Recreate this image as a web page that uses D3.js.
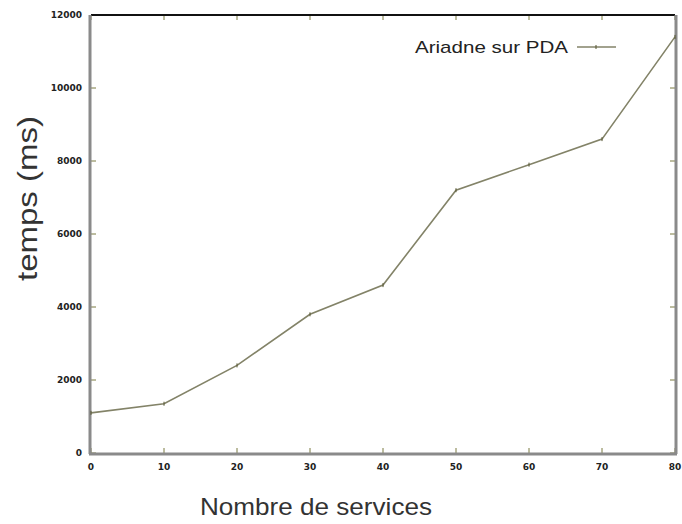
<!DOCTYPE html>
<html><head><meta charset="utf-8">
<script src="https://cdn.jsdelivr.net/npm/d3@7"></script>
<style>body{margin:0;background:#fff}</style>
</head><body>
<svg id="c" width="682" height="524"></svg>
<script>
const xValues = [0, 10, 20, 30, 40, 50, 60, 70, 80];
const yValues = [1100, 1350, 2400, 3800, 4600, 7200, 7900, 8600, 11400];
const xTicks = [0, 10, 20, 30, 40, 50, 60, 70, 80];
const yTicks = [0, 2000, 4000, 6000, 8000, 10000, 12000];
const seriesName = "Ariadne sur PDA";
const xTitle = "Nombre de services";
const yTitle = "temps (ms)";

const svg = d3.select("#c");
const L = 91, R = 675, T = 15, B = 453;
const x = d3.scaleLinear().domain([0, 80]).range([L, R]);
const y = d3.scaleLinear().domain([0, 12000]).range([B, T]);
const tickCol = "#7a7a40";

const g = svg.append("g");
g.selectAll(".xt").data(xTicks).enter().append("line")
  .attr("x1", d => x(d)).attr("x2", d => x(d)).attr("y1", B).attr("y2", B - 5)
  .attr("stroke", tickCol).attr("stroke-width", 1);
g.selectAll(".xt2").data(xTicks).enter().append("line")
  .attr("x1", d => x(d)).attr("x2", d => x(d)).attr("y1", T).attr("y2", T + 5)
  .attr("stroke", tickCol).attr("stroke-width", 1);
g.selectAll(".yt").data(yTicks).enter().append("line")
  .attr("x1", L).attr("x2", L + 5).attr("y1", d => y(d)).attr("y2", d => y(d))
  .attr("stroke", tickCol).attr("stroke-width", 1);
g.selectAll(".yt2").data(yTicks).enter().append("line")
  .attr("x1", R).attr("x2", R - 5).attr("y1", d => y(d)).attr("y2", d => y(d))
  .attr("stroke", tickCol).attr("stroke-width", 1);

svg.append("line").attr("x1", L).attr("x2", R).attr("y1", T).attr("y2", T).attr("stroke", "#111").attr("stroke-width", 2);
svg.append("line").attr("x1", L - 1).attr("x2", L - 1).attr("y1", T).attr("y2", B + 1).attr("stroke", "#8a8a8a").attr("stroke-width", 3);
svg.append("line").attr("x1", R + 1).attr("x2", R + 1).attr("y1", T).attr("y2", B + 1).attr("stroke", "#8a8a8a").attr("stroke-width", 3);
svg.append("line").attr("x1", L - 2).attr("x2", R + 2).attr("y1", B + 1).attr("y2", B + 1).attr("stroke", "#8a8a8a").attr("stroke-width", 3);

svg.selectAll(".xl").data(xTicks).enter().append("text")
  .attr("x", d => x(d)).attr("y", B + 17).attr("text-anchor", "middle")
  .attr("font-family", "DejaVu Sans").attr("font-size", 9).attr("font-weight", "bold").attr("fill", "#222")
  .text(d => d);
svg.selectAll(".yl").data(yTicks).enter().append("text")
  .attr("x", L - 9).attr("y", d => y(d) + 3).attr("text-anchor", "end")
  .attr("font-family", "DejaVu Sans").attr("font-size", 9).attr("font-weight", "bold").attr("fill", "#222")
  .text(d => d);

const line = d3.line().x((d, i) => x(xValues[i])).y(d => y(d));
svg.append("path").datum(yValues).attr("d", line)
  .attr("fill", "none").attr("stroke", "#838368").attr("stroke-width", 1.6);
svg.selectAll(".pt").data(yValues).enter().append("line")
  .attr("x1", (d, i) => x(xValues[i])).attr("x2", (d, i) => x(xValues[i]))
  .attr("y1", d => y(d) - 2).attr("y2", d => y(d) + 2)
  .attr("stroke", "#555530").attr("stroke-width", 1);

svg.append("text").attr("x", 568).attr("y", 53).attr("text-anchor", "end")
  .attr("font-family", "Liberation Sans, Arial").attr("font-size", 17).attr("fill", "#222")
  .attr("textLength", 153).attr("lengthAdjust", "spacingAndGlyphs")
  .text(seriesName);
svg.append("line").attr("x1", 577).attr("x2", 616).attr("y1", 47).attr("y2", 47)
  .attr("stroke", "#838368").attr("stroke-width", 1.6);
svg.append("line").attr("x1", 596).attr("x2", 596).attr("y1", 45).attr("y2", 49)
  .attr("stroke", "#555530").attr("stroke-width", 1);

svg.append("text").attr("x", 200).attr("y", 515)
  .attr("font-family", "Liberation Sans, Arial").attr("font-size", 24).attr("fill", "#333")
  .attr("textLength", 232).attr("lengthAdjust", "spacingAndGlyphs")
  .text(xTitle);
svg.append("text").attr("transform", "translate(37,281) rotate(-90)")
  .attr("font-family", "Liberation Sans, Arial").attr("font-size", 28).attr("fill", "#333")
  .attr("textLength", 165).attr("lengthAdjust", "spacingAndGlyphs")
  .text(yTitle);
</script>
</body></html>
